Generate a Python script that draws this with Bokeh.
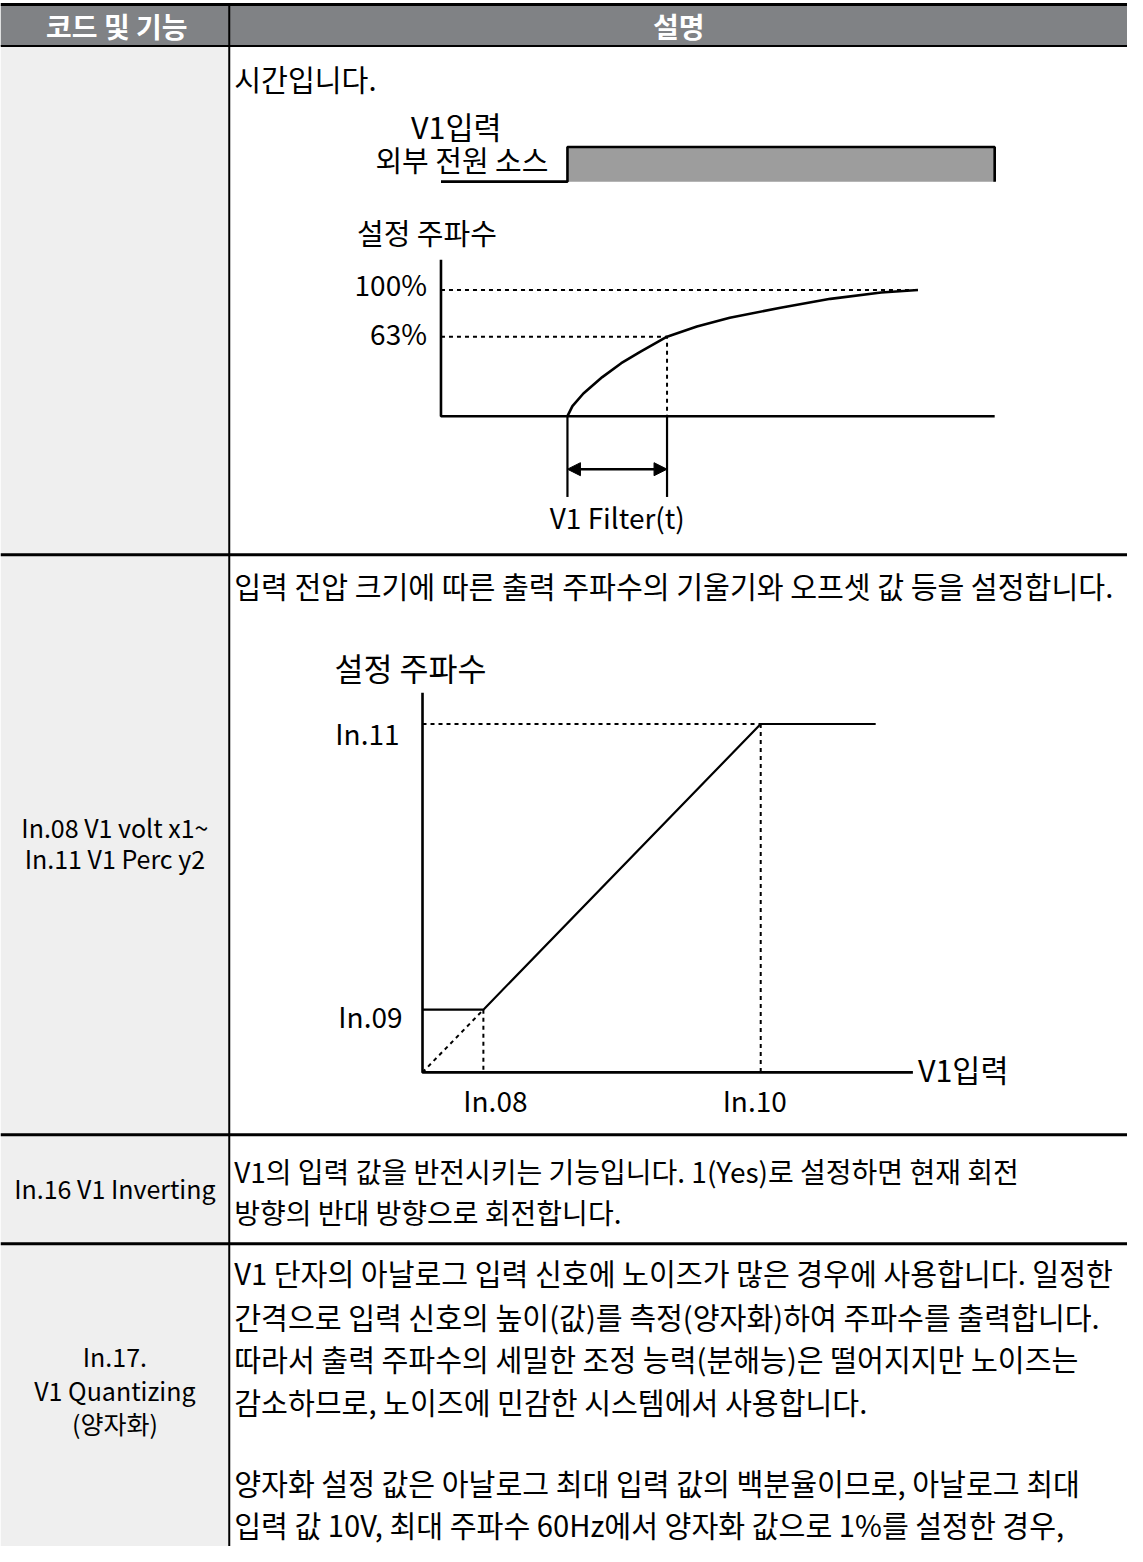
from bokeh.plotting import figure
from bokeh.models import Range1d, Arrow, NormalHead
from bokeh.core.properties import value
from bokeh.embed import file_html
from bokeh.resources import INLINE

# ---------------- data ----------------
header_labels = ["코드 및 기능", "설명"]

code_row2 = ["In.08 V1 volt x1~", "In.11 V1 Perc y2"]
code_row3 = ["In.16 V1 Inverting"]
code_row4 = ["In.17.", "V1 Quantizing", "(양자화)"]

desc_row1 = ["시간입니다."]
desc_row2 = ["입력 전압 크기에 따른 출력 주파수의 기울기와 오프셋 값 등을 설정합니다."]
desc_row3 = ["V1의 입력 값을 반전시키는 기능입니다. 1(Yes)로 설정하면 현재 회전",
             "방향의 반대 방향으로 회전합니다."]
desc_row4 = ["V1 단자의 아날로그 입력 신호에 노이즈가 많은 경우에 사용합니다. 일정한",
             "간격으로 입력 신호의 높이(값)를 측정(양자화)하여 주파수를 출력합니다.",
             "따라서 출력 주파수의 세밀한 조정 능력(분해능)은 떨어지지만 노이즈는",
             "감소하므로, 노이즈에 민감한 시스템에서 사용합니다.",
             "양자화 설정 값은 아날로그 최대 입력 값의 백분율이므로, 아날로그 최대",
             "입력 값 10V, 최대 주파수 60Hz에서 양자화 값으로 1%를 설정한 경우,"]

# chart 1 : V1 filter response (time in filter-constant units, output in %)
sig_t = [-1.27, 0.0, 0.0, 4.29, 4.29]
sig_level = [0, 0, 1, 1, 0]
sig_labels = ["V1입력", "외부 전원 소스"]
filt_t = [0.0, 0.05, 0.16, 0.35, 0.54, 0.73, 1.0, 1.3, 1.63, 2.14, 2.64, 3.15, 3.52]
filt_pct = [0, 8, 18, 31, 42, 51, 63, 71, 78, 86, 93, 98, 100]
filt_levels = [100, 63]
filt_level_labels = ["100%", "63%"]
filt_t_axis = [-1.27, 4.29]
filt_pct_axis_top = 124
filt_tau = [0.0, 1.0]
filt_ylabel = "설정 주파수"
filt_tau_label = "V1 Filter(t)"

# chart 2 : V1 input -> set frequency (in % of scale)
v1_in = [0, 18, 100, 134]
v1_freq = [18, 18, 100, 100]
v1_x_ticks = [18, 100]
v1_x_labels = ["In.08", "In.10"]
v1_y_ticks = [18, 100]
v1_y_labels = ["In.09", "In.11"]
v1_x_axis_end = 145
v1_y_axis_top = 109
v1_ylabel = "설정 주파수"
v1_xlabel = "V1입력"

# ---------------- page / figure ----------------
W, H = 1127, 1546
X0, X1 = 0, 1143
YB, YT = 1562, 0
p = figure(width=W, height=H, x_range=Range1d(X0, X1), y_range=Range1d(YB, YT),
           output_backend="svg", toolbar_location=None, min_border=0,
           x_axis_location=None, y_axis_location=None)
p.grid.visible = False
p.outline_line_color = None
p.background_fill_color = "white"
p.border_fill_color = "white"

KR = "Noto Sans CJK KR"
F = value(KR)


def lin_range(v0, p0, v1, p1, start_px, end_px):
    a = (p1 - p0) / (v1 - v0)
    b = p0 - a * v0
    return Range1d(start=(start_px - b) / a, end=(end_px - b) / a)


# chart coordinate systems (anchor pixel positions of the diagrams on the page)
p.extra_x_ranges = {
    "c1x": lin_range(0, 575, 1, 676, X0, X1),
    "c2x": lin_range(0, 428, 100, 771, X0, X1),
}
p.extra_y_ranges = {
    "sig": lin_range(0, 183, 1, 148, YB, YT),
    "c1y": lin_range(0, 420, 100, 292.5, YB, YT),
    "c2y": lin_range(0, 1083, 100, 731, YB, YT),
}

# ---------------- table ----------------
col_x = 232
row_edges = [46, 560, 1146, 1256, 1562]
p.quad(left=0, right=col_x, top=row_edges[0], bottom=row_edges[-1],
       fill_color="#efefef", line_color=None)
p.quad(left=0, right=1143, top=5, bottom=46, fill_color="#808285", line_color=None)
p.segment(x0=0, y0=4, x1=1143, y1=4, line_color="black", line_width=3)
for yy in row_edges[:-1]:
    p.segment(x0=0, y0=yy, x1=1143, y1=yy, line_color="black",
              line_width=2 if yy == 46 else 3)
p.segment(x0=col_x, y0=5, x1=col_x, y1=1562, line_color="black", line_width=2)

p.text(x=[118, 688], y=[26, 26], text=header_labels, text_font=F,
       text_font_size="28px", text_font_style="bold", text_color="white",
       text_align="center", text_baseline="middle")

left_kw = dict(text_font=F, text_font_size="29.2px", text_color="black",
               text_align="left", text_baseline="middle")
code_kw = dict(text_font=F, text_font_size="25px", text_color="black",
               text_align="center", text_baseline="middle")

p.text(x=[237], y=[78], text=desc_row1, **left_kw)
p.text(x=[237], y=[591], text=desc_row2, **left_kw)
p.text(x=[237] * 2, y=[1183, 1224], text=desc_row3, text_font=F, text_font_size="28px",
       text_color="black", text_align="left", text_baseline="middle")
p.text(x=[237] * 6, y=[1285, 1329, 1372, 1415, 1497, 1539], text=desc_row4, **left_kw)

p.text(x=[116] * 2, y=[835, 866], text=code_row2, **code_kw)
p.text(x=[116], y=[1200], text=code_row3, **code_kw)
p.text(x=[116] * 3, y=[1370, 1404, 1437], text=code_row4, **code_kw)

# ---------------- chart 1 ----------------
c1 = dict(x_range_name="c1x", y_range_name="c1y")
# input signal
p.varea(x=sig_t[2:4], y1=[0, 0], y2=[1, 1], fill_color="#9d9d9d",
        x_range_name="c1x", y_range_name="sig")
p.line(x=sig_t, y=sig_level, line_color="black", line_width=2.6,
       x_range_name="c1x", y_range_name="sig")
p.text(x=[sig_t[0]], y=[1.0], text=[sig_labels[0]], x_offset=[-30], y_offset=[-21],
       text_font=F, text_font_size="30.5px", text_align="left", text_baseline="middle",
       x_range_name="c1x", y_range_name="sig")
p.text(x=[sig_t[1]], y=[0.5], text=[sig_labels[1]], x_offset=[-19], y_offset=[-5],
       text_font=F, text_font_size="29px", text_align="right", text_baseline="middle",
       x_range_name="c1x", y_range_name="sig")

# axes
p.line(x=[filt_t_axis[0], filt_t_axis[0], filt_t_axis[1]],
       y=[filt_pct_axis_top, 0, 0], line_color="black", line_width=2.6, **c1)
# dashed guides
p.line(x=[filt_t_axis[0], filt_t[-1]], y=[filt_levels[0]] * 2, line_color="black",
       line_width=2, line_dash="4 4", **c1)
p.line(x=[filt_t_axis[0], filt_tau[1], filt_tau[1]], y=[filt_levels[1], filt_levels[1], 0],
       line_color="black", line_width=2, line_dash="4 4", **c1)
# response curve
p.line(x=filt_t, y=filt_pct, line_color="black", line_width=2.6, **c1)
# tau markers
for tt in filt_tau:
    p.line(x=[tt, tt], y=[0, -64], line_color="black", line_width=2.2, **c1)
p.add_layout(Arrow(x_start=filt_tau[0], y_start=-42, x_end=filt_tau[1], y_end=-42,
                   line_width=2.4, line_color="black",
                   start=NormalHead(size=13, fill_color="black", line_color="black"),
                   end=NormalHead(size=13, fill_color="black", line_color="black"),
                   **c1))
p.text(x=[sum(filt_tau) / 2], y=[-64], text=[filt_tau_label], y_offset=[20],
       text_font=F, text_font_size="28px", text_align="center", text_baseline="middle", **c1)
p.text(x=[filt_t_axis[0]] * 2, y=filt_levels, text=filt_level_labels,
       x_offset=[-14, -14], y_offset=[-6, -4],
       text_font=F, text_font_size="28px", text_align="right", text_baseline="middle", **c1)
p.text(x=[filt_t_axis[0]], y=[filt_pct_axis_top], text=[filt_ylabel],
       x_offset=[-84], y_offset=[-28],
       text_font=F, text_font_size="29px", text_align="left", text_baseline="middle", **c1)

# ---------------- chart 2 ----------------
c2 = dict(x_range_name="c2x", y_range_name="c2y")
p.line(x=[0, 0, v1_x_axis_end], y=[v1_y_axis_top, 0, 0], line_color="black",
       line_width=2.6, **c2)
p.line(x=v1_in, y=v1_freq, line_color="black", line_width=2.2, **c2)
p.line(x=[0, v1_in[1]], y=[0, v1_freq[1]], line_color="black", line_width=2,
       line_dash="4 4", **c2)
p.line(x=[0, v1_in[2]], y=[v1_freq[2], v1_freq[2]], line_color="black", line_width=2,
       line_dash="4 4", **c2)
for xx, yy in zip(v1_x_ticks, v1_freq[1:3]):
    p.line(x=[xx, xx], y=[yy, 0], line_color="black", line_width=2,
           line_dash="4 4", **c2)
p.text(x=v1_x_ticks, y=[0, 0], text=v1_x_labels, x_offset=[12, -6], y_offset=[28, 28],
       text_font=F, text_font_size="28px", text_align="center", text_baseline="middle", **c2)
p.text(x=[0, 0], y=v1_y_ticks, text=v1_y_labels, x_offset=[-20, -23], y_offset=[6, 9],
       text_font=F, text_font_size="28px", text_align="right", text_baseline="middle", **c2)
p.text(x=[v1_x_axis_end], y=[0], text=[v1_xlabel], x_offset=[5], y_offset=[-3],
       text_font=F, text_font_size="30.5px", text_align="left", text_baseline="middle", **c2)
p.text(x=[0], y=[v1_y_axis_top], text=[v1_ylabel], x_offset=[-88], y_offset=[-26],
       text_font=F, text_font_size="31.5px", text_align="left", text_baseline="middle", **c2)

open("out.html", "w").write(file_html(p, INLINE))
